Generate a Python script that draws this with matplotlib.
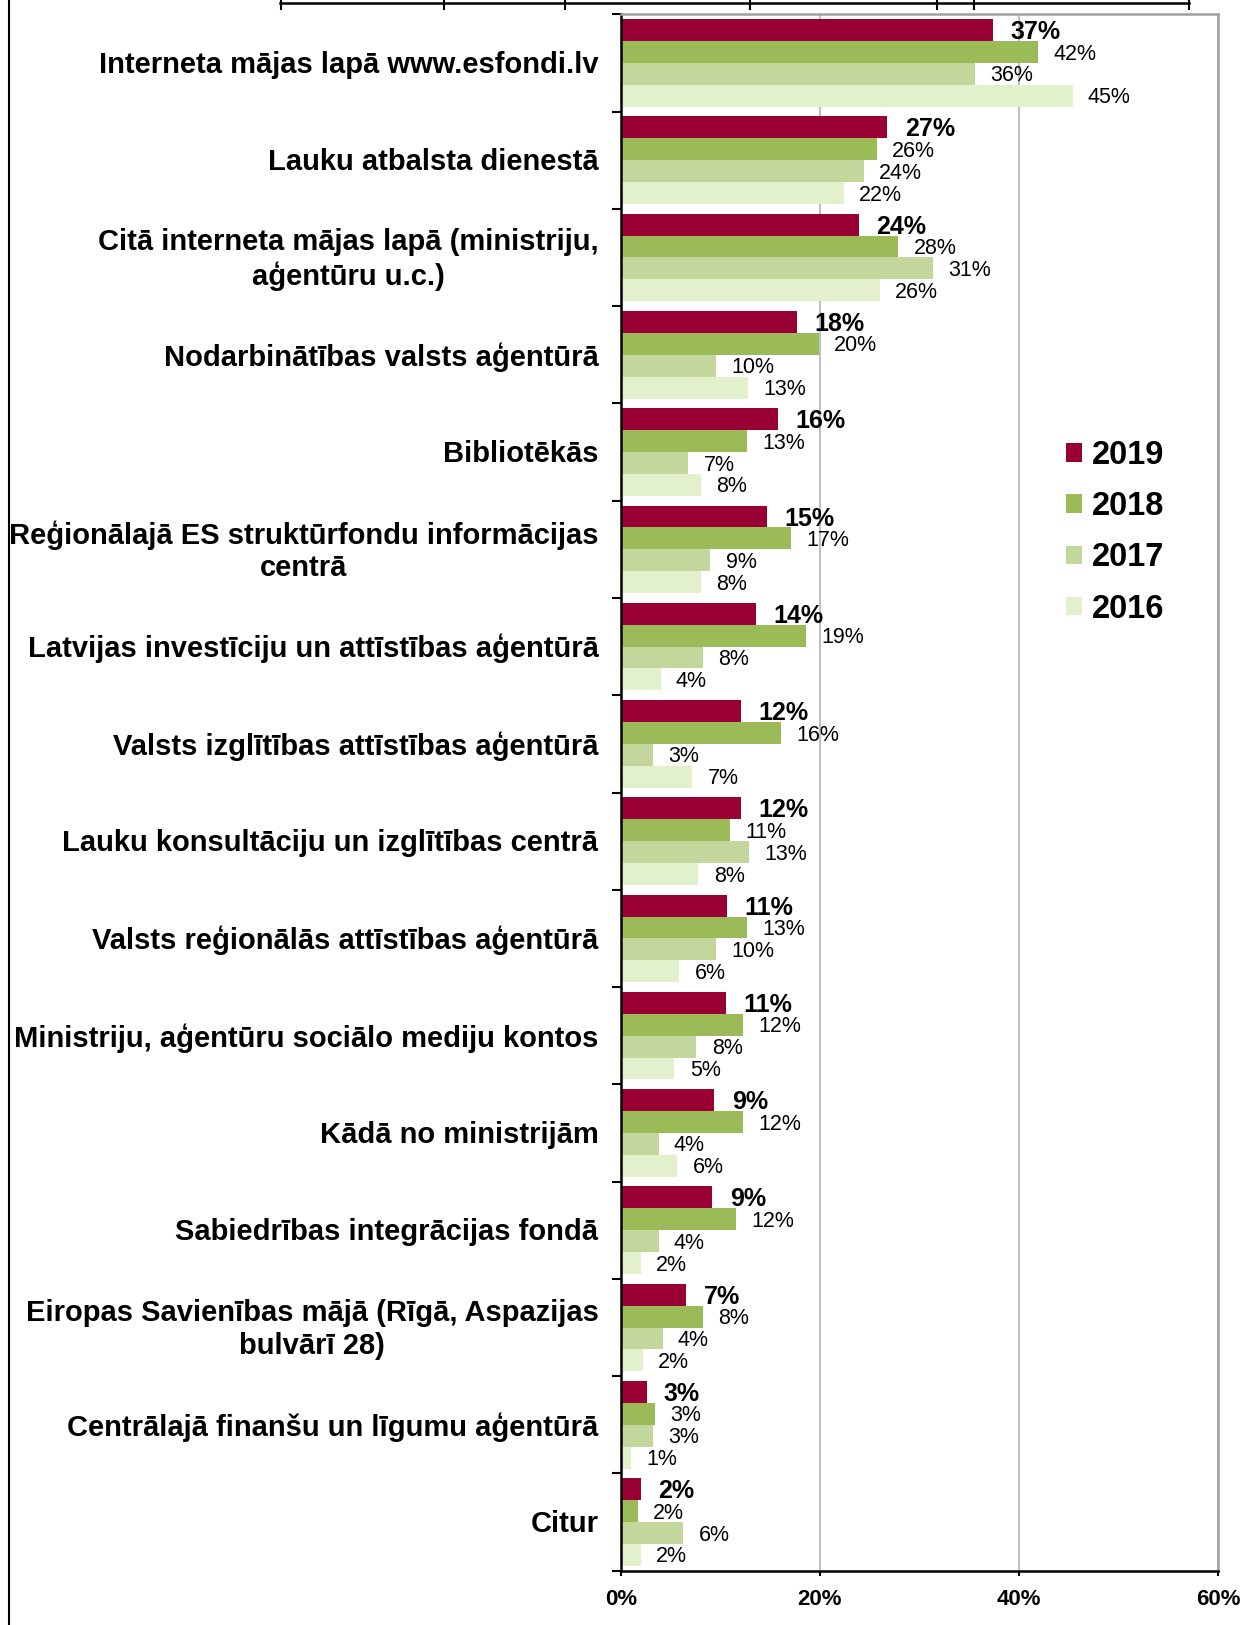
import matplotlib
matplotlib.use("Agg")
import matplotlib.pyplot as plt
from matplotlib.patches import Patch
from matplotlib.lines import Line2D
import numpy as np

plt.rcParams['font.family'] = ['Liberation Sans', 'DejaVu Sans']

# data
categories = [
    "Interneta mājas lapā www.esfondi.lv",
    "Lauku atbalsta dienestā",
    "Citā interneta mājas lapā (ministriju,\naģentūru u.c.)",
    "Nodarbinātības valsts aģentūrā",
    "Bibliotēkās",
    "Reģionālajā ES struktūrfondu informācijas\ncentrā",
    "Latvijas investīciju un attīstības aģentūrā",
    "Valsts izglītības attīstības aģentūrā",
    "Lauku konsultāciju un izglītības centrā",
    "Valsts reģionālās attīstības aģentūrā",
    "Ministriju, aģentūru sociālo mediju kontos",
    "Kādā no ministrijām",
    "Sabiedrības integrācijas fondā",
    "Eiropas Savienības mājā (Rīgā, Aspazijas\nbulvārī 28)",
    "Centrālajā finanšu un līgumu aģentūrā",
    "Citur",
]
years = ["2019", "2018", "2017", "2016"]
v2019 = [37.4, 26.8, 23.9, 17.7, 15.8, 14.7, 13.6, 12.1, 12.1, 10.7, 10.6, 9.4, 9.2, 6.6, 2.6, 2.0]
v2018 = [41.9, 25.7, 27.9, 19.9, 12.7, 17.1, 18.6, 16.1, 11.0, 12.7, 12.3, 12.3, 11.6, 8.3, 3.4, 1.7]
v2017 = [35.6, 24.4, 31.4, 9.6, 6.8, 9.0, 8.3, 3.2, 12.9, 9.6, 7.6, 3.8, 3.8, 4.2, 3.2, 6.3]
v2016 = [45.4, 22.4, 26.0, 12.8, 8.1, 8.1, 4.0, 7.2, 7.8, 5.9, 5.4, 5.7, 2.0, 2.2, 1.0, 2.0]
series = [v2019, v2018, v2017, v2016]
colors = ["#990033", "#9BBB59", "#C3D69B", "#E2F0CC"]

W, H = 1244, 1625
fig = plt.figure(figsize=(W / 100, H / 100), dpi=100)
ax = fig.add_axes([620.7 / W, 1 - 1570.7 / H, (1218 - 620.7) / W, (1570.7 - 14.3) / H])

n = len(categories)
bh = 0.225
for j, (vals, col) in enumerate(zip(series, colors)):
    ys = np.arange(n) + 0.5 + (j - 1.5) * bh
    ax.barh(ys, vals, height=bh, color=col, zorder=2)
    for v, y in zip(vals, ys):
        ax.annotate(f"{round(v):d}%", xy=(v, y), xytext=(12.5 if j == 0 else 11, -1.5),
                    textcoords="offset points", ha="left", va="center",
                    fontsize=18 if j == 0 else 15.5,
                    fontweight="bold" if j == 0 else "normal", color="black", zorder=3)

for i, c in enumerate(categories):
    ax.annotate(c, xy=(0, i + 0.5), xytext=(-16, -1.5), textcoords="offset points",
                ha="right", va="center", multialignment="center",
                fontsize=21, fontweight="bold", annotation_clip=False)

ax.set_xlim(0, 60)
ax.set_ylim(n, 0)
ax.set_xticks([0, 20, 40, 60])
ax.set_xticklabels(["0%", "20%", "40%", "60%"], fontsize=16, fontweight="bold")
ax.set_yticks(np.arange(n + 1))
ax.set_yticklabels([])
ax.tick_params(axis="y", direction="out", length=6.5, width=1.5, color="black")
ax.tick_params(axis="x", direction="out", length=3.5, width=1.5, pad=10)
ax.xaxis.grid(True, color="#C0C0C0", lw=1.5, zorder=0)
ax.set_axisbelow(True)
ax.spines["left"].set_linewidth(1.8)
ax.spines["bottom"].set_linewidth(1.8)
ax.spines["top"].set_color("#A0A0A0")
ax.spines["right"].set_color("#A0A0A0")
ax.spines["top"].set_linewidth(1.8)
ax.spines["right"].set_linewidth(1.8)

handles = [Patch(facecolor=c, edgecolor="none", label=y) for c, y in zip(colors, years)]
ax.legend(handles=handles, loc="upper left", bbox_to_anchor=(1066 / W, 1 - 440 / H),
          bbox_transform=fig.transFigure, frameon=False,
          prop={"size": 23.5, "weight": "bold"}, handlelength=0.5, handleheight=0.5,
          handletextpad=0.3, labelspacing=0.62, borderpad=0, borderaxespad=0)

# frame remnants at the figure edges
fig.add_artist(Line2D([9 / W, 9 / W], [0, 1], color="black", lw=1.5))
fig.add_artist(Line2D([280 / W, 1189 / W], [1 - 3 / H] * 2, color="black", lw=1.8))
for tx in [281, 444, 565, 750, 937, 974, 1189]:
    fig.add_artist(Line2D([tx / W] * 2, [1 - 9 / H, 1], color="black", lw=1.5))

fig.savefig("out.png", dpi=100)
